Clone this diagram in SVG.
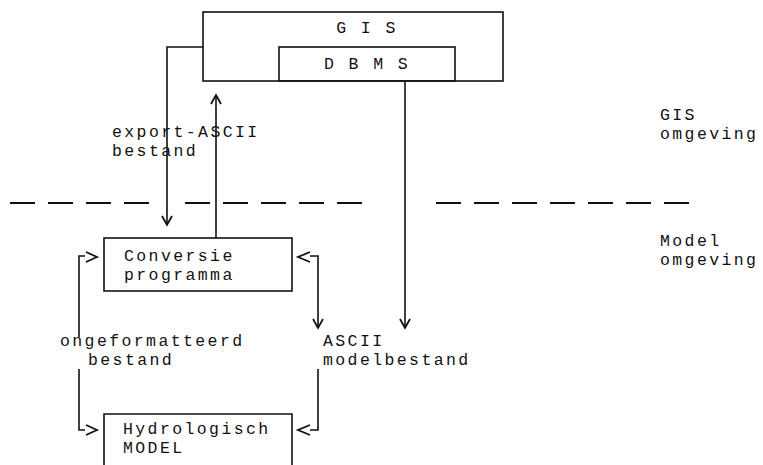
<svg xmlns="http://www.w3.org/2000/svg" width="763" height="465" viewBox="0 0 763 465">
<style>
text{font-family:"Liberation Mono","DejaVu Sans Mono",monospace;font-size:16.5px;letter-spacing:2.4px;fill:#111}
.ln{fill:none;stroke:#111;stroke-width:1.6}
.ah{fill:none;stroke:#111;stroke-width:1.8;stroke-linejoin:miter}
.dash{fill:none;stroke:#111;stroke-width:1.8;stroke-dasharray:25 13}
</style>
<rect width="763" height="465" fill="#fff"/>
<g id="gis">
<rect class="ln" x="203" y="12" width="300" height="69"/>
<text x="367" y="33" text-anchor="middle">G I S</text>
</g>
<g id="dbms">
<rect class="ln" x="279" y="47" width="176" height="34"/>
<text x="367" y="69" text-anchor="middle">D B M S</text>
</g>
<g id="conversie">
<rect class="ln" x="104" y="238" width="188" height="53"/>
<text x="124" y="261">Conversie<tspan x="124" dy="19">programma</tspan></text>
</g>
<g id="model">
<path class="ln" d="M104,470 V414 H292 V470"/>
<text x="123" y="434">Hydrologisch<tspan x="123" dy="19">MODEL</tspan></text>
</g>
<g id="labels">
<text x="112" y="137">export-ASCII<tspan x="112" dy="19">bestand</tspan></text>
<text x="60" y="346">ongeformatteerd<tspan x="88" dy="19">bestand</tspan></text>
<text x="323" y="346">ASCII<tspan x="323" dy="19">modelbestand</tspan></text>
<text x="660" y="120">GIS<tspan x="660" dy="19">omgeving</tspan></text>
<text x="660" y="246">Model<tspan x="660" dy="19">omgeving</tspan></text>
</g>
<g id="divider">
<path class="dash" d="M10,203 H149"/>
<path class="dash" d="M185,203 H363"/>
<path class="dash" d="M436,203 H690"/>
</g>
<g id="connectors">
<polyline class="ln" points="203,47 167,47 167,224"/>
<polyline class="ah" points="162,216 167,225 172,216"/>
<line class="ln" x1="216" y1="238" x2="216" y2="96"/>
<polyline class="ah" points="211,104 216,95 221,104"/>
<line class="ln" x1="405" y1="81" x2="405" y2="327"/>
<polyline class="ah" points="400,319 405,328 410,319"/>
<polyline class="ln" points="85,256 79,256 79,337"/>
<polyline class="ah" points="86,252 97,257 86,262"/>
<polyline class="ln" points="79,369 79,430 85,430"/>
<polyline class="ah" points="86,425 97,430 86,435"/>
<polyline class="ln" points="310,256 318,256 318,327"/>
<polyline class="ah" points="310,252 298,257 310,262"/>
<polyline class="ah" points="313,319 318,328 323,319"/>
<polyline class="ln" points="318,369 318,430 310,430"/>
<polyline class="ah" points="310,425 298,430 310,435"/>
</g>
</svg>
